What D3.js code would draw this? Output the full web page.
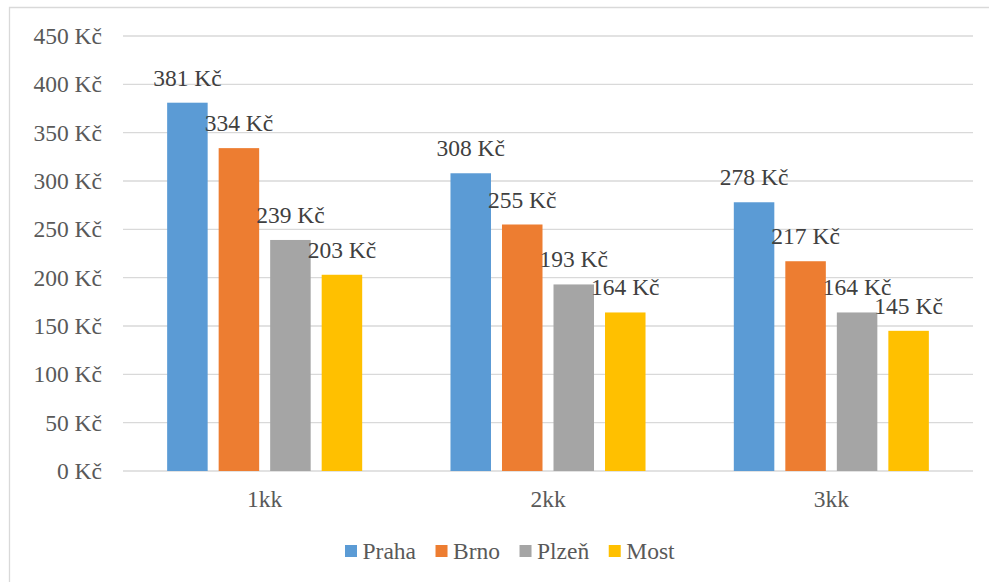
<!DOCTYPE html>
<html><head><meta charset="utf-8">
<script src="https://cdn.jsdelivr.net/npm/d3@7"></script>
</head><body style="margin:0;background:#fff"><svg id="c" width="989" height="582" style="display:block"></svg>
<script>
const categories = ["1kk", "2kk", "3kk"];
const seriesNames = ["Praha", "Brno", "Plzeň", "Most"];
const praha = [381, 308, 278];
const brno = [334, 255, 217];
const plzen = [239, 193, 164];
const most = [203, 164, 145];
const tickValues = [0, 50, 100, 150, 200, 250, 300, 350, 400, 450];
const colors = ["#5B9BD5", "#ED7D31", "#A5A5A5", "#FFC000"];
const seriesValues = [praha, brno, plzen, most];

const FONT = '"Liberation Serif"';
const svg = d3.select("#c");
const fs = 23.5;
// frame
svg.append("path").attr("d", "M9.5,582 V7.5 H989").attr("fill", "none").attr("stroke", "#d9d9d9").attr("stroke-width", 1.3);

const x0 = d3.scaleBand().domain(categories).range([123, 973]).padding(0);
const x1 = d3.scaleBand().domain(seriesNames).range([0, x0.bandwidth()]).paddingInner(0.2136).paddingOuter(0.857);
const y = d3.scaleLinear().domain([0, 450]).range([471, 36]);

// gridlines
svg.append("g").selectAll("line").data(tickValues).join("line")
  .attr("x1", 123).attr("x2", 973)
  .attr("y1", d => y(d)).attr("y2", d => y(d))
  .attr("stroke", "#d9d9d9").attr("stroke-width", 1.4);

// y labels
const yAxis = d3.axisLeft(y).tickValues(tickValues).tickFormat(d => d + " Kč").tickSize(0).tickPadding(21);
const ya = svg.append("g").attr("transform", "translate(123,0)").call(yAxis);
ya.select(".domain").remove();
ya.selectAll("text").attr("font-size", fs).attr("fill", "#595959").style("font-family", FONT);

// bars
const rows = [];
categories.forEach((c, i) => seriesNames.forEach((s, j) => rows.push({c, s, j, v: seriesValues[j][i]})));
svg.append("g").selectAll("rect").data(rows).join("rect")
  .attr("x", d => x0(d.c) + x1(d.s)).attr("width", x1.bandwidth())
  .attr("y", d => y(d.v)).attr("height", d => y(0) - y(d.v))
  .attr("fill", d => colors[d.j]);

// data labels
svg.append("g").selectAll("text").data(rows).join("text")
  .attr("x", d => x0(d.c) + x1(d.s) + x1.bandwidth() / 2)
  .attr("y", d => y(d.v) - 17)
  .attr("text-anchor", "middle").attr("font-size", fs).attr("fill", "#404040")
  .style("font-family", FONT)
  .text(d => d.v + " Kč");

// x labels
const xAxis = d3.axisBottom(x0).tickSize(0).tickPadding(0);
const xa = svg.append("g").attr("transform", "translate(0,471)").call(xAxis);
xa.select(".domain").remove();
xa.selectAll("text").attr("font-size", fs).attr("fill", "#595959").attr("dy", null).attr("y", 36)
  .style("font-family", FONT);

// legend
const leg = svg.append("g");
let lx = 345;
seriesNames.forEach((s, j) => {
  leg.append("rect").attr("x", lx).attr("y", 545).attr("width", 12).attr("height", 12).attr("fill", colors[j]);
  const t = leg.append("text").attr("x", lx + 17.5).attr("y", 559).attr("font-size", fs).attr("fill", "#595959")
    .style("font-family", FONT).text(s);
  lx += 17.5 + t.node().getComputedTextLength() + 19.5;
});
</script></body></html>
